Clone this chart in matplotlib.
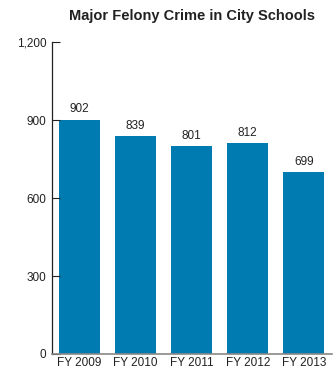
import matplotlib.pyplot as plt
from matplotlib import font_manager

years = ['FY 2009', 'FY 2010', 'FY 2011', 'FY 2012', 'FY 2013']
crimes = [902, 839, 801, 812, 699]
yticks = [0, 300, 600, 900, 1200]

names = {f.name for f in font_manager.fontManager.ttflist}
fam = 'Liberation Sans Narrow' if 'Liberation Sans Narrow' in names else 'Liberation Sans'
plt.rcParams['font.family'] = [fam, 'DejaVu Sans']

fig = plt.figure(figsize=(3.35, 3.74), dpi=100)
ax = fig.add_axes([0.155, 0.0535, 0.836, 0.834])

x = range(len(years))
bars = ax.bar(x, crimes, width=0.73, color='#007bb2')
for xi, v in zip(x, crimes):
    ax.text(xi, v + 16, str(v), ha='center', va='bottom', fontsize=8.5, color='#222222')

ax.set_xlim(-0.49, 4.5)
ax.set_ylim(0, 1200)
ax.set_yticks(yticks)
ax.set_yticklabels([f'{t:,}' for t in yticks])
ax.set_xticks(list(x))
ax.set_xticklabels(years)
ax.tick_params(axis='y', direction='in', length=6, width=0.8, color='#222222',
               labelsize=8.5, labelcolor='#222222', pad=4)
ax.tick_params(axis='x', length=0, labelsize=8.5, labelcolor='#222222', pad=2)

for s in ['top', 'right']:
    ax.spines[s].set_visible(False)
ax.spines['left'].set_color('#222222')
ax.spines['left'].set_linewidth(0.9)
ax.spines['bottom'].set_color('#888888')
ax.spines['bottom'].set_linewidth(1.2)

fig.text(0.573, 0.958, 'Major Felony Crime in City Schools', ha='center', va='center',
         fontsize=10.5, fontweight='bold', color='#222222')

fig.savefig('out.png', dpi=100)
